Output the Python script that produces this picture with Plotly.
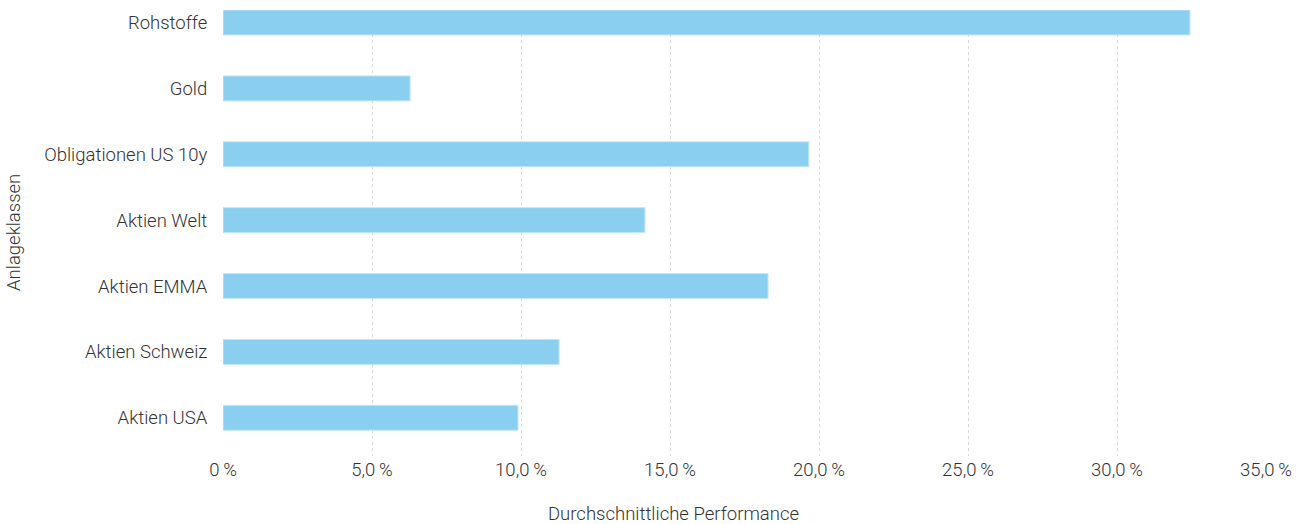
import plotly.graph_objects as go

categories = ["Aktien USA", "Aktien Schweiz", "Aktien EMMA", "Aktien Welt",
              "Obligationen US 10y", "Gold", "Rohstoffe"]
values = [9.9, 11.28, 18.29, 14.16, 19.66, 6.28, 32.45]
tick_vals = [0, 5, 10, 15, 20, 25, 30, 35]
tick_text = ["0\u2009%", "5,0\u2009%", "10,0\u2009%", "15,0\u2009%", "20,0\u2009%",
             "25,0\u2009%", "30,0\u2009%", "35,0\u2009%"]

font = "Roboto, 'Liberation Sans', sans-serif"
txt = "#333333"
fs = 18.5

fig = go.Figure(go.Bar(
    x=values, y=categories, orientation="h",
    marker=dict(color="#8BCFF0", line=dict(color="#C6E7F7", width=1)),
    width=0.38,
))

fig.update_layout(
    width=1309, height=524,
    margin=dict(l=223, r=43, t=10, b=68),
    plot_bgcolor="white", paper_bgcolor="white",
    showlegend=False,
    font=dict(family=font, size=fs, color=txt, weight=300),
)
fig.update_xaxes(
    range=[0, 35], tickvals=tick_vals, ticktext=tick_text,
    showgrid=True, gridcolor="#DADADA", griddash="dot", gridwidth=1,
    zeroline=False, showline=False,
    ticks="", 
    tickfont=dict(size=fs, color=txt, weight=300),
)
fig.update_yaxes(
    categoryorder="array", categoryarray=categories,
    range=[-0.58, 6.19],
    showgrid=False, zeroline=False, showline=False,
    ticks="outside", ticklen=11, tickcolor="rgba(0,0,0,0)",
    tickfont=dict(size=fs, color=txt, weight=300),
)
fig.add_annotation(
    text="Durchschnittliche Performance", xref="paper", yref="paper",
    x=(673 - 223) / 1043, y=-(514 - 456) / 446, xanchor="center", yanchor="middle",
    showarrow=False, font=dict(size=fs, color=txt, weight=300),
)
fig.add_annotation(
    text="Anlageklassen", xref="paper", yref="paper",
    x=-(223 - 14) / 1043, y=0.5, xanchor="center", yanchor="middle",
    textangle=-90, showarrow=False, font=dict(size=fs, color=txt, weight=300),
)
fig.write_html("out.html")
